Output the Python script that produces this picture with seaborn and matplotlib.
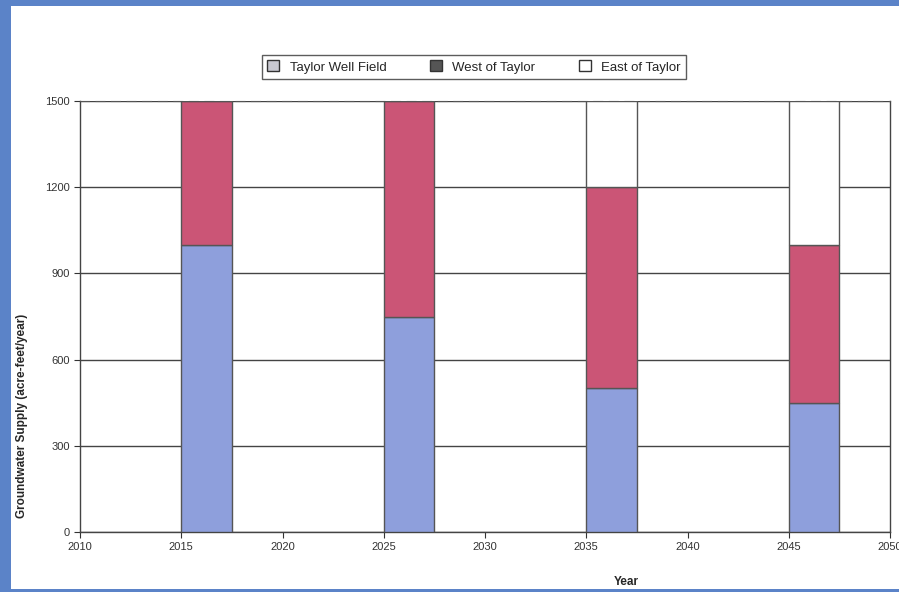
import matplotlib
matplotlib.use('Agg')
import matplotlib.pyplot as plt
import matplotlib.patches as mpatches
import seaborn as sns
import pandas as pd

# Datos
years = [2015, 2025, 2035, 2045]
taylor_well = [1000, 750, 500, 450]
west_taylor = [500, 750, 700, 550]
east_taylor = [0, 0, 300, 500]
series_names = ['Taylor Well Field', 'West of Taylor', 'East of Taylor']

df = pd.DataFrame({'year': years, series_names[0]: taylor_well,
                   series_names[1]: west_taylor, series_names[2]: east_taylor})

sns.set_style('white')
plt.rcParams['font.family'] = ['Liberation Sans', 'DejaVu Sans']

fig = plt.figure(figsize=(8.99, 5.92), dpi=100, facecolor='#5b83c8')
# fondo blanco del escaneo
fig.patches.append(mpatches.Rectangle((11 / 899, 3 / 592), 1, 1 - 9 / 592,
                                      transform=fig.transFigure, facecolor='white',
                                      edgecolor='none', zorder=-10))
ax = fig.add_axes([80 / 899, 60 / 592, 810 / 899, 431 / 592])
ax.set_facecolor('white')

colors = ['#8e9fdc', '#cb5576', 'white']
bottom = [0] * len(years)
for name, c in zip(series_names, colors):
    vals = df[name].tolist()
    ax.bar(df['year'], vals, width=2.5, bottom=bottom, align='edge', color=c,
           edgecolor='#555555', linewidth=1.0, zorder=3)
    bottom = [b + v for b, v in zip(bottom, vals)]

ax.set_xlim(2010, 2050)
ax.set_ylim(0, 1500)
ax.set_xticks(range(2010, 2051, 5))
ax.set_yticks(range(0, 1501, 300))
ax.yaxis.grid(True, color='#444444', linewidth=1.0, zorder=1)
ax.tick_params(axis='both', labelsize=8, colors='#333333', direction='out', length=4,
               left=True, bottom=True)
for s in ['left', 'bottom', 'right']:
    ax.spines[s].set_color('#444444')
    ax.spines[s].set_linewidth(1.0)
ax.spines['top'].set_visible(True)
ax.spines['top'].set_color('#555555')
ax.spines['top'].set_linestyle((0, (8, 6)))

ax.set_ylabel('Groundwater Supply (acre-feet/year)', fontsize=8.5, fontweight='bold')
ax.yaxis.set_label_coords(-0.064, 0.27)
ax.set_xlabel('Year', fontsize=8.5, fontweight='bold')
ax.xaxis.set_label_coords(0.675, -0.102)

handles = [mpatches.Patch(facecolor='#c8c8d0', edgecolor='#333333'),
           mpatches.Patch(facecolor='#555555', edgecolor='#333333'),
           mpatches.Patch(facecolor='white', edgecolor='#333333')]
leg = fig.legend(handles, series_names, loc='center', bbox_to_anchor=(474 / 899, 1 - 67 / 592),
                 ncol=3, fontsize=9.5, frameon=True, fancybox=False, edgecolor='#333333',
                 handlelength=0.9, handleheight=0.9, columnspacing=3.3, borderpad=0.4)
leg.get_frame().set_linewidth(1.0)

fig.savefig('out.png', dpi=100, facecolor=fig.get_facecolor())
